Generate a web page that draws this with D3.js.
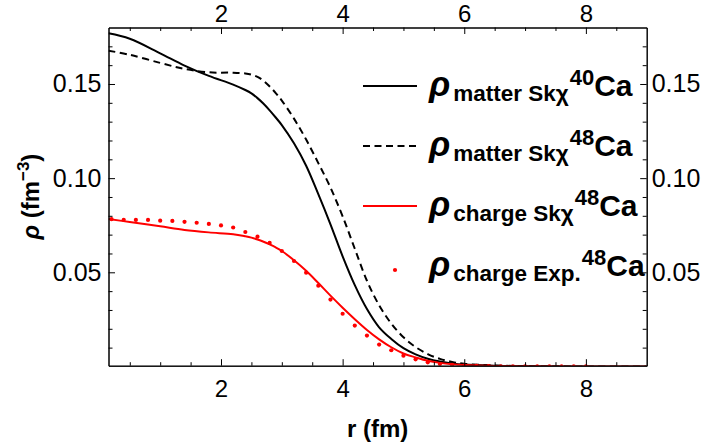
<!DOCTYPE html>
<html>
<head>
<meta charset="utf-8">
<script src="https://cdn.jsdelivr.net/npm/d3@7"></script>
<style>
  body { margin: 0; background: #fff; }
  svg  { display: block; font-family: "Liberation Sans", Arial, sans-serif; }
</style>
</head>
<body>
<div id="chart"></div>
<script>
// radial grid (fm) shared by the three calculated curves
const rGrid = [0.15, 0.5, 1.0, 1.4, 1.8, 2.2, 2.4, 2.5, 2.6, 2.7, 2.8, 2.9, 3.0, 3.2, 3.4, 3.6, 3.8, 4.0,
               4.2, 4.4, 4.6, 4.8, 5.0, 5.2, 5.4, 5.6, 5.8, 6.0, 6.5, 7.0, 8.0, 9.0];

const rhoMatter40 = [0.1769, 0.1740, 0.1663, 0.1598, 0.1543, 0.1497, 0.1468, 0.1450, 0.1425, 0.1395,
                     0.1360, 0.1322, 0.1282, 0.1185,
                     0.1066, 0.0915, 0.0755, 0.0585, 0.0432, 0.0305, 0.0208, 0.0146, 0.0097, 0.0064,
                     0.0041, 0.0026, 0.0016, 0.0010, 0.0004, 0.0001, 0.0, 0.0];

const rhoMatter48 = [0.1677, 0.1655, 0.1612, 0.1580, 0.1562, 0.1560, 0.1556, 0.1550, 0.1538, 0.1517,
                     0.1487, 0.1452, 0.1412, 0.1316,
                     0.1205, 0.1080, 0.0950, 0.0797, 0.0625, 0.0455, 0.0325, 0.0228, 0.0155, 0.0103,
                     0.0066, 0.0040, 0.0024, 0.0014, 0.0005, 0.0002, 0.0, 0.0];

const rhoCharge48 = [0.0783, 0.0767, 0.0744, 0.0725, 0.0712, 0.0702, 0.0691, 0.0684, 0.0674, 0.0662,
                     0.0648, 0.0632, 0.0613, 0.0564,
                     0.0508, 0.0443, 0.0376, 0.0312, 0.0251, 0.0194, 0.0144, 0.0102, 0.0069, 0.0048,
                     0.0030, 0.0019, 0.0012, 0.0008, 0.0003, 0.0001, 0.0, 0.0];

// experimental charge density of 48Ca
const rExp = [0.2, 0.4, 0.6, 0.8, 1.0, 1.2, 1.4, 1.6, 1.8, 2.0, 2.2, 2.4, 2.6, 2.8, 3.0, 3.2, 3.4, 3.6,
              3.8, 4.0, 4.2, 4.4, 4.6, 4.8, 5.0, 5.2, 5.4, 5.6, 5.8, 6.0, 6.2, 6.4, 6.6, 6.8, 7.0, 7.2,
              7.4, 7.6, 7.8, 8.0];
const rhoExp48 = [0.0782, 0.0779, 0.0778, 0.0778, 0.0774, 0.0773, 0.0768, 0.0763, 0.0757, 0.0749,
                  0.0738, 0.0714, 0.0689, 0.0656, 0.0613, 0.0560, 0.0498, 0.0429, 0.0355, 0.0280,
                  0.0217, 0.0164, 0.0116, 0.0086, 0.0057, 0.0038, 0.0022, 0.0013, 0.0008, 0.0005,
                  0.0003, 0.0002, 0.0001, 0.0001, 0.0001, 0.0, 0.0, 0.0, 0.0, 0.0];

const xMajor = [2, 4, 6, 8];
const xMinor = [0.5, 1, 1.5, 2.5, 3, 3.5, 4.5, 5, 5.5, 6.5, 7, 7.5, 8.5];
const yMajor = [0.05, 0.10, 0.15];
const yMinor = [0.01, 0.02, 0.03, 0.04, 0.06, 0.07, 0.08, 0.09, 0.11, 0.12, 0.13, 0.14, 0.16, 0.17];

const legendSub  = ["matter Sk\u03C7", "matter Sk\u03C7", "charge Sk\u03C7", "charge Exp."];
const legendMass = ["40", "48", "48", "48"];

const W = 706, H = 446;
const margin = { top: 27.5, right: 59.3, bottom: 80.3, left: 108.5 };
const innerW = W - margin.left - margin.right;
const innerH = H - margin.top - margin.bottom;

const svg = d3.select("#chart").append("svg")
  .attr("width", W)
  .attr("height", H);

const x = d3.scaleLinear().domain([0.15, 9]).range([0, innerW]);
const y = d3.scaleLinear().domain([0.0004, 0.18]).range([innerH, 0]);

const g = svg.append("g")
  .attr("transform", `translate(${margin.left},${margin.top})`);

g.append("clipPath").attr("id", "clip")
  .append("rect").attr("width", innerW).attr("height", innerH);

const plot = g.append("g").attr("clip-path", "url(#clip)");

const line = d3.line()
  .x(d => x(d[0]))
  .y(d => y(d[1]))
  .curve(d3.curveCatmullRom.alpha(0.5));

const series = [
  { vals: rhoMatter40, color: "#000", dash: null },
  { vals: rhoMatter48, color: "#000", dash: "7,4.5" },
  { vals: rhoCharge48, color: "#ff0000", dash: null },
];

series.forEach(s => {
  plot.append("path")
    .datum(rGrid.map((r, i) => [r, s.vals[i]]))
    .attr("d", line)
    .attr("fill", "none")
    .attr("stroke", s.color)
    .attr("stroke-width", 2)
    .attr("stroke-dasharray", s.dash);
});

plot.append("g").selectAll("circle")
  .data(rExp.map((r, i) => [r, rhoExp48[i]]))
  .enter()
  .append("circle")
  .attr("cx", d => x(d[0]))
  .attr("cy", d => y(d[1]))
  .attr("r", 2.1)
  .attr("fill", "#ff0000");

// ── frame with ticks on all four sides ───────────────────────────────────
function styleAxis(size) {
  return sel => {
    sel.selectAll("path").attr("stroke", "#000").attr("stroke-width", 1);
    sel.selectAll("line").attr("stroke", "#000").attr("stroke-width", 1);
    sel.selectAll("text").style("font-size", size).attr("fill", "#000");
  };
}

// minor ticks first
g.append("g").attr("transform", `translate(0,${innerH})`)
  .call(d3.axisBottom(x).tickValues(xMinor).tickSize(-3.5).tickSizeOuter(0).tickFormat(""))
  .call(styleAxis("24px"));
g.append("g")
  .call(d3.axisTop(x).tickValues(xMinor).tickSize(-3.5).tickSizeOuter(0).tickFormat(""))
  .call(styleAxis("24px"));
g.append("g")
  .call(d3.axisLeft(y).tickValues(yMinor).tickSize(-4).tickSizeOuter(0).tickFormat(""))
  .call(styleAxis("25px"));
g.append("g").attr("transform", `translate(${innerW},0)`)
  .call(d3.axisRight(y).tickValues(yMinor).tickSize(-4).tickSizeOuter(0).tickFormat(""))
  .call(styleAxis("25px"));

// major ticks with labels
g.append("g").attr("transform", `translate(0,${innerH})`)
  .call(d3.axisBottom(x).tickValues(xMajor).tickSize(-6.5).tickSizeOuter(0).tickPadding(14).tickFormat(d3.format("d")))
  .call(styleAxis("24px"));
g.append("g")
  .call(d3.axisTop(x).tickValues(xMajor).tickSize(-6.5).tickSizeOuter(0).tickPadding(5.8).tickFormat(d3.format("d")))
  .call(styleAxis("24px"));
g.append("g")
  .call(d3.axisLeft(y).tickValues(yMajor).tickSize(-6.5).tickSizeOuter(0).tickPadding(7).tickFormat(d3.format(".2f")))
  .call(styleAxis("25px"));
g.append("g").attr("transform", `translate(${innerW},0)`)
  .call(d3.axisRight(y).tickValues(yMajor).tickSize(-6.5).tickSizeOuter(0).tickPadding(5).tickFormat(d3.format(".2f")))
  .call(styleAxis("25px"));

// ── axis titles ──────────────────────────────────────────────────────────
svg.append("text")
  .attr("x", margin.left + innerW / 2)
  .attr("y", 437)
  .attr("text-anchor", "middle")
  .style("font-size", "24px")
  .style("font-weight", "bold")
  .text("r (fm)");

const yt = svg.append("text")
  .attr("transform", `translate(39,${margin.top + innerH / 2}) rotate(-90)`)
  .attr("text-anchor", "middle")
  .style("font-size", "24px")
  .style("font-weight", "bold");
yt.append("tspan").style("font-style", "italic").text("\u03C1");
yt.append("tspan").text(" (fm");
yt.append("tspan").attr("dy", -10).style("font-size", "17px").text("\u22123");
yt.append("tspan").attr("dy", 10).text(")");

// ── legend ───────────────────────────────────────────────────────────────
const legX = 363, legY0 = 86, legStep = 60;
legendSub.forEach((sub, i) => {
  const ly = legY0 + i * legStep;
  const row = svg.append("g");
  if (i < 3) {
    row.append("line")
      .attr("x1", legX).attr("x2", legX + 54)
      .attr("y1", ly).attr("y2", ly)
      .attr("stroke", series[i].color)
      .attr("stroke-width", 2)
      .attr("stroke-dasharray", series[i].dash);
  } else {
    row.append("circle")
      .attr("cx", legX + 32).attr("cy", ly + 4)
      .attr("r", 2.1)
      .attr("fill", "#ff0000");
  }
  const t = row.append("text")
    .attr("x", 429)
    .attr("y", ly + 9.5)
    .style("font-weight", "bold");
  t.append("tspan").style("font-size", "35px").style("font-style", "italic").text("\u03C1");
  t.append("tspan").attr("dx", 3).attr("dy", 5).style("font-size", "22.5px").text(sub);
  t.append("tspan").attr("dx", 1).attr("dy", -15.5).style("font-size", "22px").text(legendMass[i]);
  t.append("tspan").attr("dy", 10.5).style("font-size", "30px").text("Ca");
});
</script>
</body>
</html>
